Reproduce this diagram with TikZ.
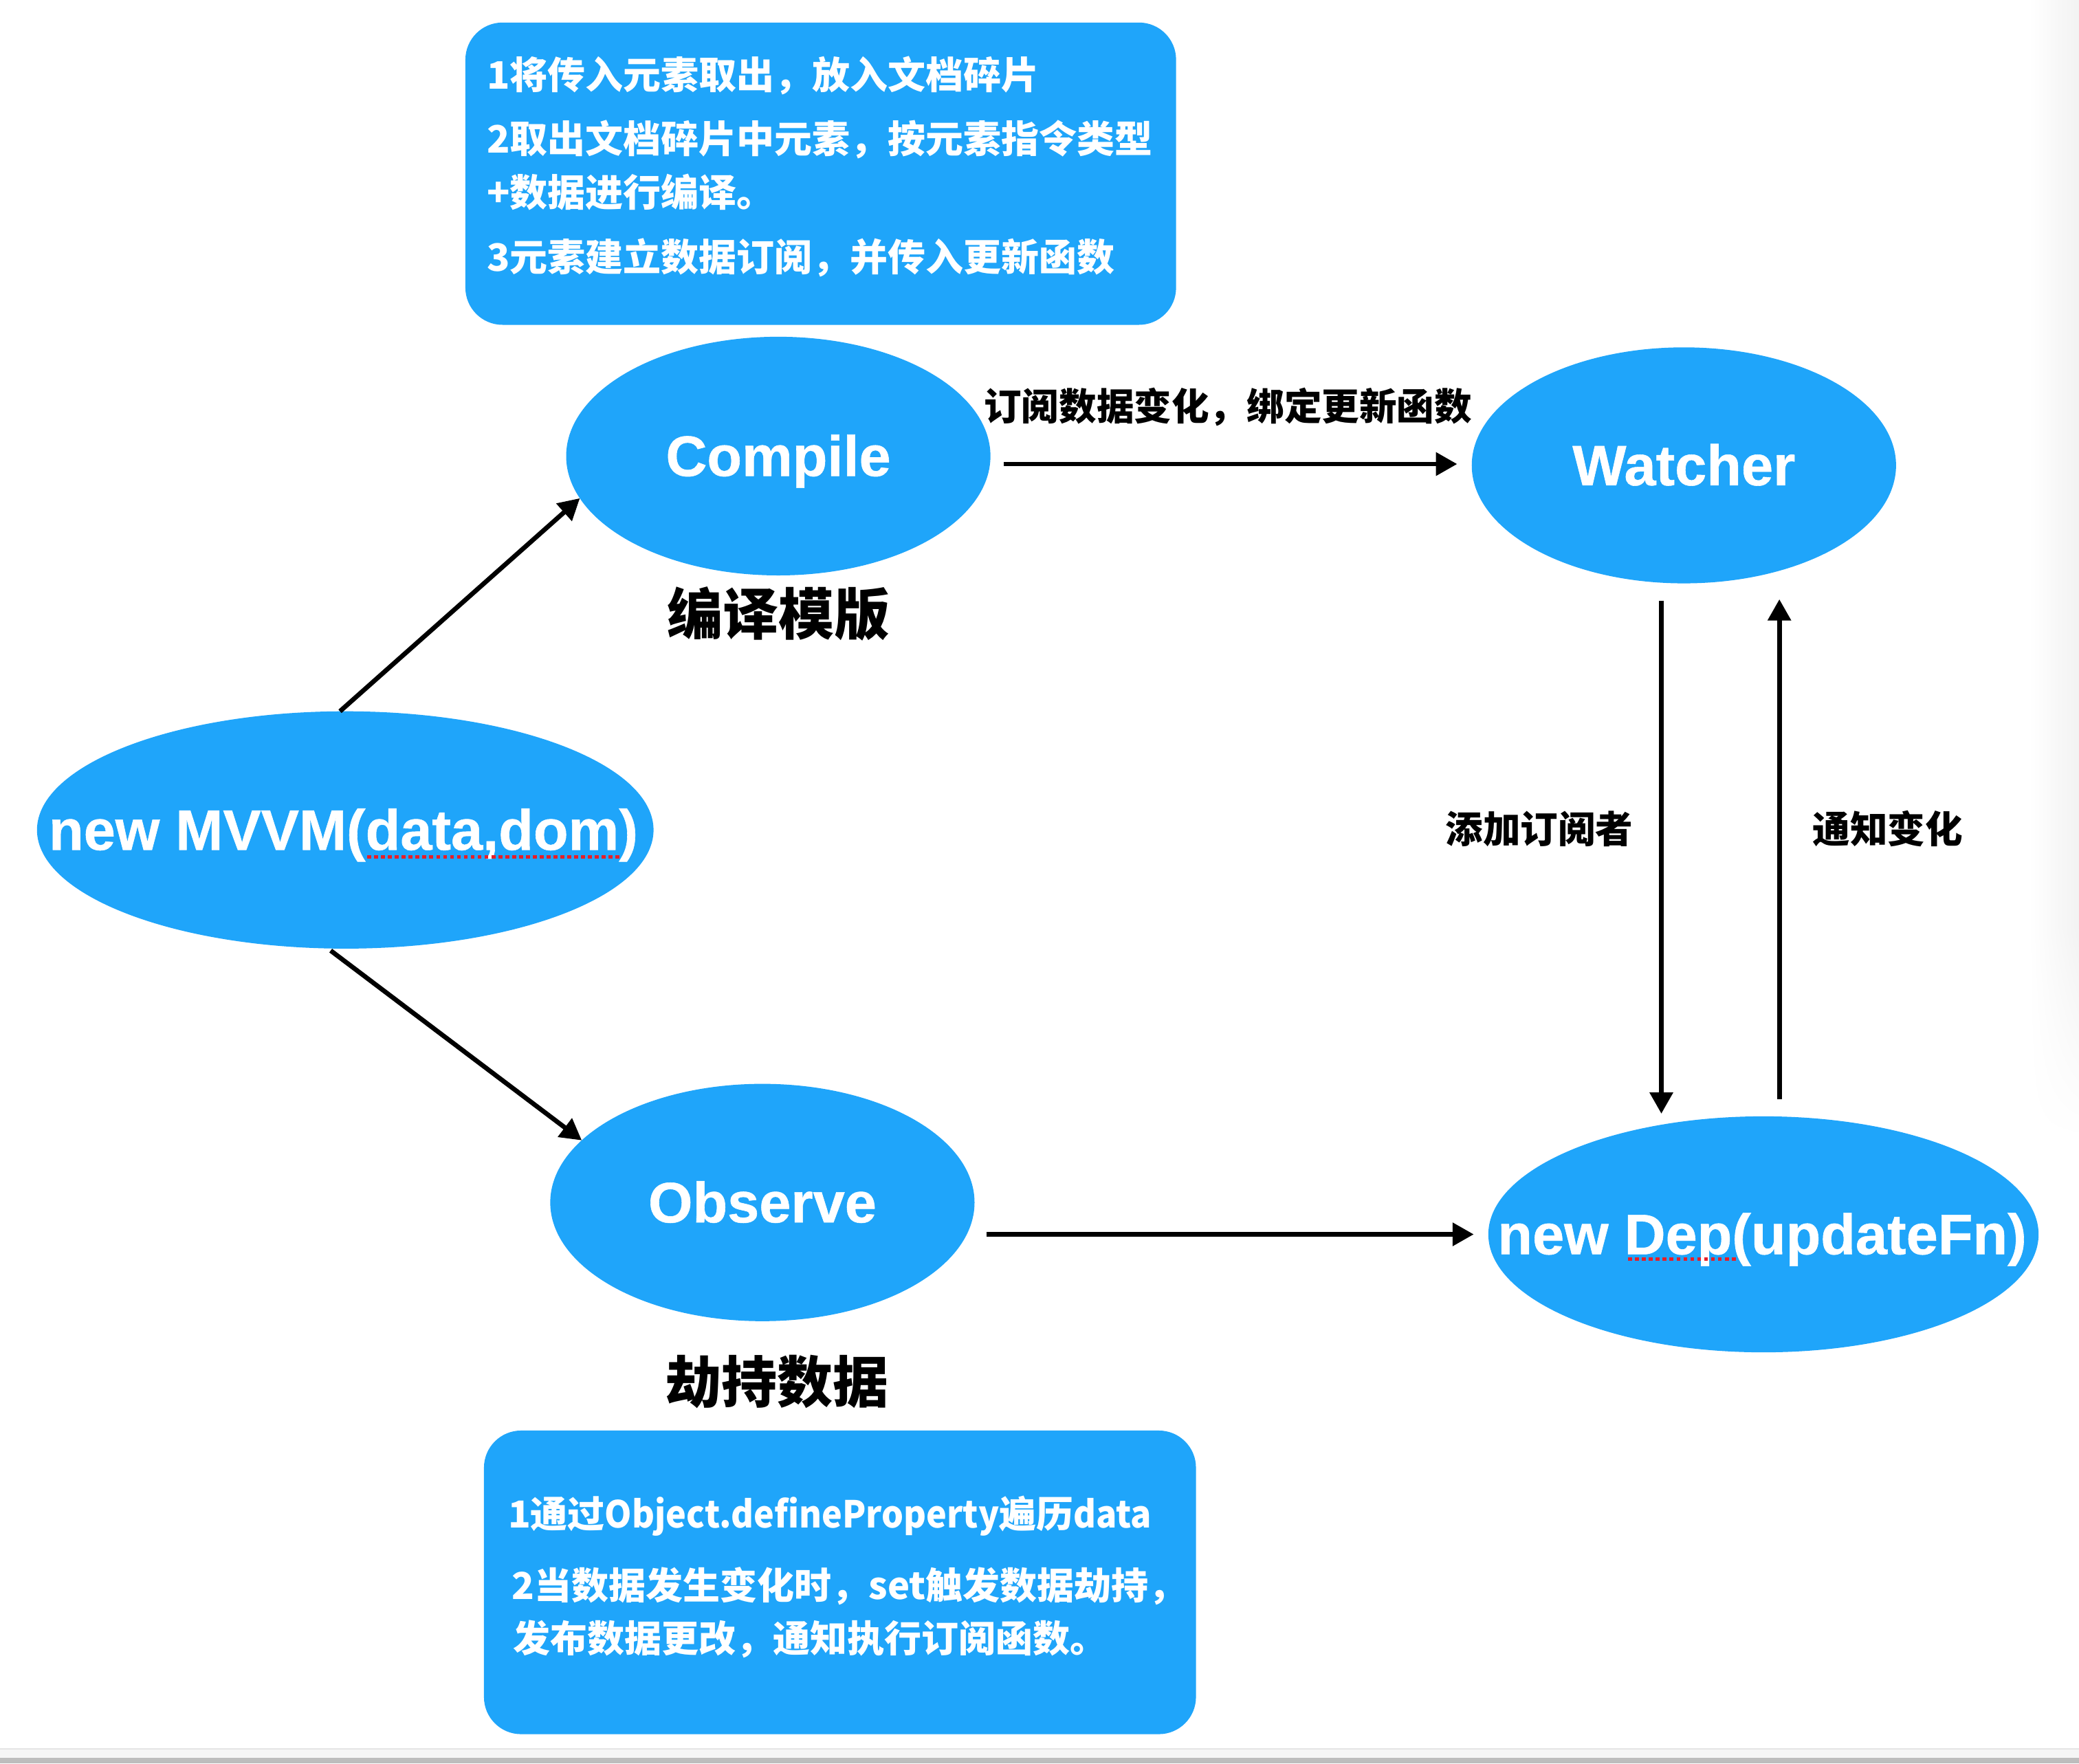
\documentclass[tikz,border=0pt]{standalone}
\usepackage{fontspec}
\setmainfont{Liberation Sans}
\newfontfamily\cjk{Noto Sans CJK SC}
\newfontfamily\cjknarrow{Noto Sans CJK SC}[FakeStretch=0.93]
\newfontfamily\heavy{Liberation Sans Bold}[FakeBold=0.7]
\usetikzlibrary{arrows.meta,shapes.geometric,shadings}
\definecolor{nodeblue}{RGB}{31,165,250}
\definecolor{squig}{RGB}{230,30,40}
\begin{document}
\begin{tikzpicture}[x=1pt,y=-1pt,
  ell/.style={shape=ellipse, fill=nodeblue, inner sep=0pt, outer sep=0pt},
  infobox/.style={rectangle, rounded corners=28pt, fill=nodeblue, inner sep=0pt, outer sep=0pt},
  etext/.style={text=white, font=\heavy\fontsize{43}{50}\selectfont, inner sep=0pt, anchor=base},
  btext/.style={text=white, font=\cjk\bfseries\fontsize{28.5}{34}\selectfont, inner sep=0pt, anchor=base west},
  captext/.style={text=black, font=\cjk\bfseries\fontsize{42}{50}\selectfont, inner sep=0pt, anchor=base},
  elab/.style={text=black, font=\cjk\bfseries\fontsize{28.3}{34}\selectfont, inner sep=0pt, anchor=base west},
  arr/.style={line width=3.5pt, -{Triangle[length=16pt,width=17pt]}},
  squiggle/.style={draw=squig, line width=2.6pt, dash pattern=on 3pt off 2.2pt}
]
\useasboundingbox (0,0) rectangle (1568,1330);
\fill[white] (0,0) rectangle (1568,1330);
% faint window shadow at right edge
\shade[left color=white, right color=black!5] (1530,0) rectangle (1568,700);
\shade[upper left=white, upper right=black!5, lower left=white, lower right=white] (1530,700) rectangle (1568,860);
% bottom window bar
\fill[black!4] (0,1319) rectangle (1568,1326);
\draw[black!10, line width=1pt] (0,1319) -- (1568,1319);
\fill[black!26] (0,1326) rectangle (1568,1330);

% info boxes
\node[infobox, minimum width=536pt, minimum height=228pt] (topbox) at (619,131) {};
\node[btext] (t1) at (367,67) {1将传入元素取出，放入文档碎片};
\node[btext] (t2) at (367,115.5) {2取出文档碎片中元素，按元素指令类型};
\node[btext] (t3) at (367,156) {+数据进行编译。};
\node[btext] (t4) at (367,204.5) {3元素建立数据订阅，并传入更新函数};

\node[infobox, minimum width=537pt, minimum height=229pt] (botbox) at (633.5,1193.5) {};
\node[btext, font=\cjk\bfseries\fontsize{28}{34}\selectfont] (b1) at (383,1152.5) {1通过{\cjknarrow\bfseries Object.defineProperty}遍历{\cjknarrow\bfseries data}};
\node[btext, font=\cjk\bfseries\fontsize{28}{34}\selectfont] (b2) at (386,1206.5) {2当数据发生变化时，set触发数据劫持，};
\node[btext, font=\cjk\bfseries\fontsize{28}{34}\selectfont] (b3) at (387,1246) {发布数据更改，通知执行订阅函数。};

% ellipses
\node[ell, minimum width=320pt, minimum height=180pt] (compile) at (587,344) {};
\node[ell, minimum width=320pt, minimum height=178pt] (watcher) at (1270,351) {};
\node[ell, minimum width=465pt, minimum height=179pt] (mvvm) at (260.4,626) {};
\node[ell, minimum width=320pt, minimum height=179pt] (observe) at (575,907) {};
\node[ell, minimum width=415pt, minimum height=178pt] (dep) at (1330,931) {};

\node[etext] (compileT) at (587,359) {Compile};
\node[etext] (watcherT) at (1270,366) {Watcher};
\node[etext] (mvvmT) at (259,641) {new MVVM(data,dom)};
\node[etext] (observeT) at (575,922) {Observe};
\node[etext] (depT) at (1329,946) {new Dep(updateFn)};

% spell-check underlines
\draw[squiggle] (277,646.5) -- (468,646.5);
\draw[squiggle] (1228,949.5) -- (1310,949.5);

% captions
\node[captext] (compileC) at (587,479) {编译模版};
\node[captext] (observeC) at (586,1058) {劫持数据};

% edge labels
\node[elab] (lab1) at (742,317) {订阅数据变化，绑定更新函数};
\node[elab] (lab2) at (1090,636) {添加订阅者};
\node[elab] (lab3) at (1367,636) {通知变化};

% connectors
\draw[arr] ([xshift=-4pt]mvvm.north) -- (compile.192);
\draw[arr] ([xshift=-11pt,yshift=-1.5pt]mvvm.south) -- (observe.161.8);
\draw[arr] ([xshift=10pt,yshift=-6pt]compile.east) -- ([xshift=-11pt,yshift=1pt]watcher.west);
\draw[arr] ([xshift=9pt,yshift=-24pt]observe.east) -- ([xshift=-11pt]dep.west);
\draw[arr] ([xshift=-17pt,yshift=-13pt]watcher.south) -- ([xshift=-77pt,yshift=2pt]dep.north);
\draw[arr] ([xshift=12pt,yshift=13pt]dep.north) -- ([xshift=72pt,yshift=-12pt]watcher.south);
\end{tikzpicture}
\end{document}
